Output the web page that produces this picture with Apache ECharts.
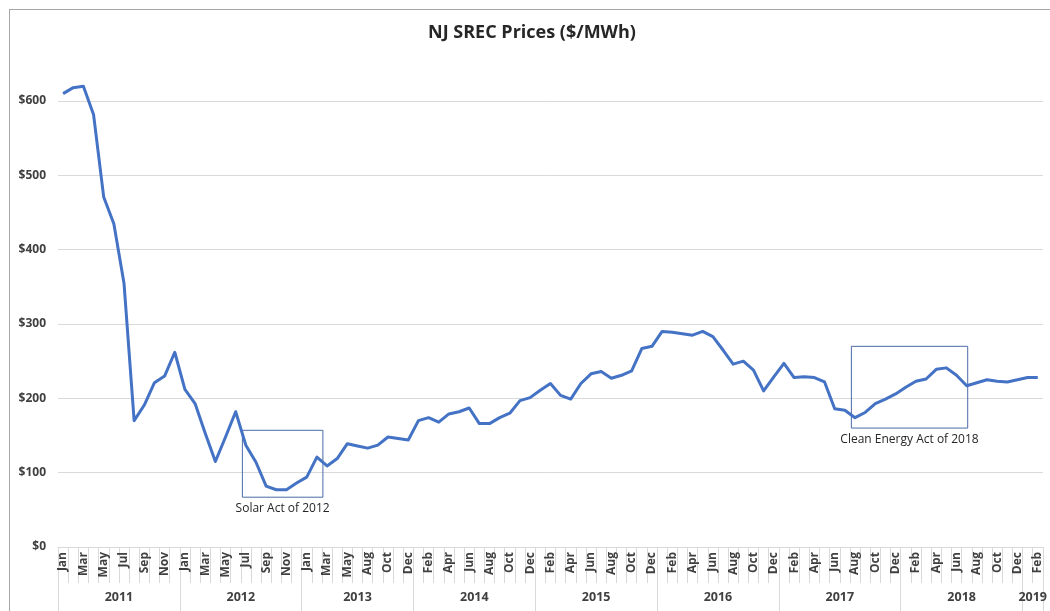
<!DOCTYPE html>
<html>
<head>
<meta charset="utf-8">
<script src="https://cdn.jsdelivr.net/npm/echarts@6/dist/echarts.min.js"></script>
<style>
  html, body { margin: 0; padding: 0; background: #fff; }
  #frame { position: absolute; left: 9px; top: 9px; width: 1041px; height: 602px;
           border-left: 1px solid #a6a6a6; border-top: 1px solid #a6a6a6; box-sizing: border-box; }
  #chart { position: absolute; left: 0; top: 0; width: 1050px; height: 611px; }
</style>
</head>
<body>
<div id="frame"></div>
<div id="chart"></div>
<script>
// Monthly categories (Jul 2013 is absent in the source series)
const categories = [
  'Jan 2011','Feb 2011','Mar 2011','Apr 2011','May 2011','Jun 2011','Jul 2011','Aug 2011','Sep 2011','Oct 2011','Nov 2011','Dec 2011',
  'Jan 2012','Feb 2012','Mar 2012','Apr 2012','May 2012','Jun 2012','Jul 2012','Aug 2012','Sep 2012','Oct 2012','Nov 2012','Dec 2012',
  'Jan 2013','Feb 2013','Mar 2013','Apr 2013','May 2013','Jun 2013','Aug 2013','Sep 2013','Oct 2013','Nov 2013','Dec 2013',
  'Jan 2014','Feb 2014','Mar 2014','Apr 2014','May 2014','Jun 2014','Jul 2014','Aug 2014','Sep 2014','Oct 2014','Nov 2014','Dec 2014',
  'Jan 2015','Feb 2015','Mar 2015','Apr 2015','May 2015','Jun 2015','Jul 2015','Aug 2015','Sep 2015','Oct 2015','Nov 2015','Dec 2015',
  'Jan 2016','Feb 2016','Mar 2016','Apr 2016','May 2016','Jun 2016','Jul 2016','Aug 2016','Sep 2016','Oct 2016','Nov 2016','Dec 2016',
  'Jan 2017','Feb 2017','Mar 2017','Apr 2017','May 2017','Jun 2017','Jul 2017','Aug 2017','Sep 2017','Oct 2017','Nov 2017','Dec 2017',
  'Jan 2018','Feb 2018','Mar 2018','Apr 2018','May 2018','Jun 2018','Jul 2018','Aug 2018','Sep 2018','Oct 2018','Nov 2018','Dec 2018',
  'Jan 2019','Feb 2019'
];

// NJ SREC prices, $/MWh
const prices = [
  610, 618, 620, 582, 471, 435, 355, 170, 191, 221, 230, 262,
  212, 193, 153, 115, 148, 182, 137, 114, 82, 77, 77, 86,
  94, 121, 109, 119, 139, 136, 133, 137, 148, 146, 144,
  170, 174, 168, 179, 182, 187, 166, 166, 174, 180, 197, 201,
  211, 220, 204, 199, 220, 233, 236, 227, 231, 237, 267, 270,
  290, 289, 287, 285, 290, 283, 265, 246, 250, 238, 210, 229,
  247, 228, 229, 228, 222, 186, 184, 174, 181, 193, 199, 206,
  215, 223, 226, 239, 241, 231, 217, 221, 225, 223, 222, 225,
  228, 228
];

// Y axis
const yTicks = [0, 100, 200, 300, 400, 500, 600];

// Annotation boxes: [x0, x1] in month positions, [yLow, yHigh] in $/MWh
const annotations = [
  { name: 'Solar Act of 2012',        x: [18.16, 26.09], y: [67, 157] },
  { name: 'Clean Energy Act of 2018', x: [78.14, 89.6],  y: [160, 270] }
];

// Year groups derived from categories
const yearOf = categories.map(c => c.split(' ')[1]);
const yearStarts = {};
const yearLens = {};
yearOf.forEach((y, i) => {
  if (!(y in yearStarts)) { yearStarts[y] = i; yearLens[y] = 0; }
  yearLens[y]++;
});
const yearLabelAt = {};
Object.keys(yearStarts).forEach(y => {
  const s = yearStarts[y], n = yearLens[y];
  if (n % 2 === 0) yearLabelAt[s + n / 2 - 1] = '{s|' + y + '}';
  else yearLabelAt[s + (n - 1) / 2] = '{c|' + y + '}';
});
const startSet = new Set(Object.values(yearStarts));

const FONT = '"Open Sans", "Noto Sans", sans-serif';
const LABEL = '#404040';
const GRIDC = '#d9d9d9';

const chart = echarts.init(document.getElementById('chart'));
chart.setOption({
  animation: false,
  textStyle: { fontFamily: FONT },
  title: {
    text: 'NJ SREC Prices ($/MWh)',
    left: 532, top: 24, textAlign: 'center', padding: 0,
    textStyle: { fontFamily: FONT, fontSize: 18, fontWeight: 'bold', color: '#262626' }
  },
  grid: { left: 58, right: 5, top: 26.7, bottom: 64, containLabel: false },
  xAxis: [
    {
      type: 'category', data: categories, boundaryGap: true,
      axisLine: { show: true, lineStyle: { color: GRIDC, width: 1 } },
      axisTick: { show: true, interval: 0, length: 36, lineStyle: { color: GRIDC } },
      axisLabel: {
        interval: 1, rotate: 90, margin: 5,
        formatter: v => v.split(' ')[0],
        color: LABEL, fontSize: 12, fontWeight: 'bold', fontFamily: FONT
      },
      splitLine: { show: false }
    },
    {
      type: 'category', data: categories, boundaryGap: true, position: 'bottom', offset: 0,
      axisLine: { show: false },
      axisTick: { show: true, length: 64, lineStyle: { color: GRIDC },
                  interval: (idx) => startSet.has(idx) },
      axisLabel: {
        interval: 0, margin: 44,
        formatter: (v, idx) => yearLabelAt[idx] || '',
        rich: {
          s: { padding: [0, 0, 0, 10.2], color: LABEL, fontSize: 12.5, fontWeight: 'bold', fontFamily: FONT },
          c: { color: LABEL, fontSize: 12.5, fontWeight: 'bold', fontFamily: FONT }
        }
      },
      splitLine: { show: false }
    },
    {
      type: 'value', min: 0, max: categories.length, show: false
    }
  ],
  yAxis: {
    type: 'value', min: 0, max: 700, interval: 100,
    axisLine: { show: false }, axisTick: { show: false },
    axisLabel: {
      margin: 12, color: LABEL, fontSize: 12, fontWeight: 'bold', fontFamily: FONT,
      showMaxLabel: false,
      formatter: v => yTicks.includes(v) ? '$' + v : ''
    },
    splitLine: { show: true, showMaxLine: false, lineStyle: { color: GRIDC, width: 1 } }
  },
  series: [
    {
      type: 'line', xAxisIndex: 0, data: prices,
      showSymbol: false, symbol: 'none',
      lineStyle: { color: '#4472C4', width: 3, join: 'round' },
      z: 3
    },
    {
      type: 'line', xAxisIndex: 2, data: [],
      showSymbol: false, silent: true,
      markArea: {
        silent: true,
        itemStyle: { color: 'rgba(0,0,0,0)', borderColor: '#4a6aa8', borderWidth: 1 },
        label: { show: true, position: 'bottom', distance: 5, color: '#262626', fontSize: 12, fontFamily: FONT },
        data: annotations.map(a => [
          { name: a.name, coord: [a.x[0], a.y[1]] },
          { coord: [a.x[1], a.y[0]] }
        ])
      },
      z: 2
    }
  ]
});
</script>
</body>
</html>
